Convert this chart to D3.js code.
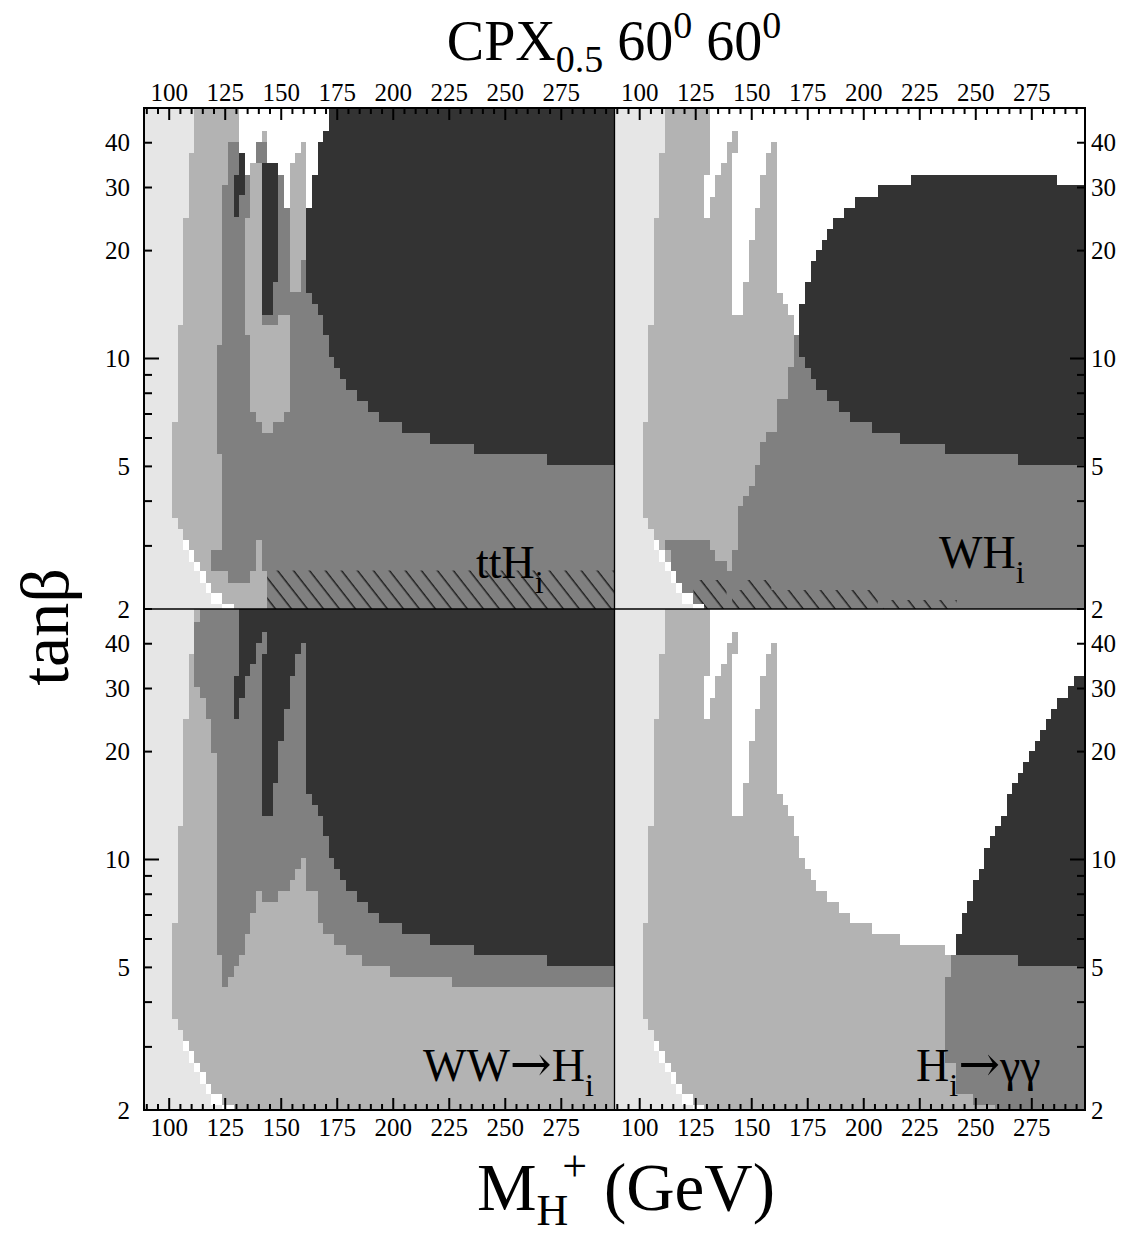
<!DOCTYPE html>
<html><head><meta charset="utf-8">
<script src="https://cdn.jsdelivr.net/npm/d3@7"></script>
<style>
body{margin:0;background:#fff;}
svg text{font-family:"Liberation Serif","Times New Roman",serif;fill:#000;}
</style></head><body>
<svg id="chart" width="1142" height="1236"></svg>
<script>
// ---------- axis domains / ticks ----------
const M_MIN = 88.75, M_MAX = 298.75, T_MIN = 2, T_MAX = 50;
const xMajorTicks = [100,125,150,175,200,225,250,275];
const xMinorTicks = d3.range(90, 300, 5);
const yTickValues = [2,3,4,5,6,7,8,9,10,20,30,40];
const yTickLabels = [2,5,10,20,30,40];

// ---------- region data: rows [tanβ low, tanβ high, M0, M1, (M0, M1) ...] ----------
// LEP-excluded strip (very light grey): [tLow, tHigh, M right edge]
const lepA = [
 [2.0,2.07,123.75],[2.07,2.21,118.75],[2.21,2.37,116.25],[2.37,2.55,113.75],
 [2.55,2.71,111.25],[2.71,2.93,108.75],[2.93,3.12,106.25],[3.12,3.34,106.25],
 [3.34,3.59,103.75],[3.59,6.63,101.25],[6.63,12.4,103.75],[12.4,24.6,106.25],
 [24.6,37.4,108.75],[37.4,50,111.25]
];
// thin white strip next to it: [tLow, tHigh, M right edge]
const lepW = [
 [2.0,2.07,128.75],[2.07,2.21,123.75],[2.21,2.37,118.75],[2.37,2.55,116.25],
 [2.55,2.71,113.75],[2.71,2.93,111.25],[2.93,3.12,108.75]
];
// upper "finger" zone (white / dark depending on channel)
const fingerZone = [
 [43.0,50, 131.25,M_MAX],
 [40.3,43.0, 131.25,141.25, 143.75,M_MAX],
 [37.4,40.3, 131.25,138.75, 143.75,158.75, 161.25,M_MAX],
 [35.1,37.4, 131.25,138.75, 141.25,156.25, 161.25,M_MAX],
 [32.5,35.1, 131.25,136.25, 141.25,156.25, 161.25,M_MAX],
 [28.3,32.5, 128.75,133.75, 141.25,153.75, 161.25,M_MAX],
 [26.3,28.3, 128.75,131.25, 141.25,153.75, 161.25,M_MAX],
 [24.6,26.3, 128.75,131.25, 141.25,151.25, 161.25,M_MAX],
 [21.4,24.6, 141.25,151.25, 161.25,M_MAX],
 [16.3,21.4, 141.25,148.75, 161.25,M_MAX],
 [15.2,16.3, 141.25,146.25, 161.25,M_MAX],
 [14.2,15.2, 141.25,146.25, 163.75,M_MAX],
 [13.2,14.2, 141.25,146.25, 166.25,M_MAX],
 [11.6,13.2, 168.75,M_MAX]
];
// large dark region (upper right)
const darkBulk = [
 [43.0,50,171.25,M_MAX],[40.3,43.0,168.75,M_MAX],[32.5,40.3,166.25,M_MAX],
 [26.3,32.5,163.75,M_MAX],[15.2,26.3,161.25,M_MAX],[14.2,15.2,163.75,M_MAX],
 [13.2,14.2,166.25,M_MAX],[11.6,13.2,168.75,M_MAX],[10.1,11.6,171.25,M_MAX],
 [9.41,10.1,173.75,M_MAX],[8.77,9.41,176.25,M_MAX],[8.16,8.77,178.75,M_MAX],
 [7.62,8.16,183.75,M_MAX],[7.11,7.62,188.75,M_MAX],[6.63,7.11,193.75,M_MAX],
 [6.21,6.63,203.75,M_MAX],[5.79,6.21,216.25,M_MAX],[5.40,5.79,236.25,M_MAX],
 [5.03,5.40,268.75,M_MAX]
];
// ttH panel
const tthMid = [
 [2.0,2.37,143.75,M_MAX],[2.37,2.55,126.25,M_MAX],[2.55,2.93,118.75,M_MAX],
 [2.93,5.40,123.75,M_MAX],[5.40,10.9,121.25,M_MAX],[10.9,30.4,123.75,M_MAX],
 [30.4,40.3,126.25,M_MAX]
];
const tthLight = [
 [2.37,2.55,136.25,143.75],[2.55,3.12,138.75,141.25],
 [6.21,6.63,141.25,146.25],[6.63,7.11,138.75,151.25],[7.11,11.6,136.25,153.75],
 [11.6,13.2,133.75,153.75],[13.2,15.3,133.75,141.25],
 [15.3,35.1,133.75,141.25, 153.75,158.75],[18.8,35.1,158.75,161.25],
 [35.1,37.4,156.25,161.25],[37.4,40.3,158.75,161.25],[40.3,43.0,141.25,143.75]
];
const tthMidCap = [[12.4,13.2,141.25,148.75],[15.5,21.0,148.75,153.75],[24.6,35.1,133.75,136.25]];
const tthDark = [
 [13.2,16.3,141.25,146.25],[16.3,35.1,141.25,148.75],
 [24.9,32.5,128.75,131.25],[28.6,37.4,131.25,133.75]
];
const tthWhite = [
 [43.0,50,131.25,171.25],
 [40.3,43.0,131.25,141.25, 143.75,168.75],
 [37.4,40.3,131.25,138.75, 143.75,158.75, 161.25,166.25],
 [35.1,37.4,133.75,138.75, 143.75,156.25, 161.25,166.25],
 [32.5,35.1,133.75,136.25, 148.75,153.75, 161.25,166.25],
 [26.3,32.5,151.25,153.75, 161.25,163.75]
];
const tthHatch = [[2.0,2.56,143.75,M_MAX]];
// WH panel
const whMid = [
 [9.45,11.6,168.75,M_MAX],[7.7,9.45,166.25,M_MAX],[6.24,7.7,161.25,M_MAX],
 [5.83,6.24,156.25,M_MAX],[5.06,5.83,153.75,M_MAX],[4.40,5.06,151.25,M_MAX],
 [4.13,4.40,148.75,M_MAX],[3.87,4.13,146.25,M_MAX],[3.12,3.87,143.75,M_MAX],
 [2.93,3.12,111.25,M_MAX],[2.71,2.93,113.75,M_MAX],[2.0,2.71,106.25,M_MAX]
];
const whLight = [[2.93,3.12,131.25,143.75],[2.73,2.93,133.75,141.25],[2.55,2.73,138.75,141.25]];
const whDark = [
 [30.4,32.5,221.25,286.25],[28.3,30.4,206.25,M_MAX],[26.3,28.3,196.25,M_MAX],
 [24.6,26.3,191.25,M_MAX],[23.0,24.6,186.25,M_MAX],[21.4,23.0,183.75,M_MAX],
 [20.1,21.4,181.25,M_MAX],[18.7,20.1,178.75,M_MAX],[16.3,18.7,176.25,M_MAX],
 [14.2,16.3,173.75,M_MAX],[10.1,14.2,171.25,M_MAX],
 [9.41,10.1,173.75,M_MAX],[8.77,9.41,176.25,M_MAX],[8.16,8.77,178.75,M_MAX],
 [7.62,8.16,183.75,M_MAX],[7.11,7.62,188.75,M_MAX],[6.63,7.11,193.75,M_MAX],
 [6.21,6.63,203.75,M_MAX],[5.79,6.21,216.25,M_MAX],[5.40,5.79,236.25,M_MAX],
 [5.03,5.40,268.75,M_MAX]
];
const whHatch = [
 [2.0,2.41,124.0,138.75],[2.0,2.26,141.25,146.25],[2.0,2.41,146.25,158.75],
 [2.0,2.26,158.75,206.25],[2.0,2.12,208.75,241.5]
];
// WW panel
const wwMid = [
 [45.9,50,113.75,M_MAX],[30.2,45.9,111.25,M_MAX],[28.3,30.2,113.75,M_MAX],
 [24.6,28.3,116.25,M_MAX],[19.8,24.6,118.75,M_MAX],[5.40,19.8,121.25,M_MAX],
 [4.40,5.40,123.75,M_MAX]
];
// light floor: [M0, M1, tanβ top]
const wwFloor = [
 [123.75,126.25,4.40],[126.25,128.75,4.70],[128.75,131.25,5.03],[131.25,133.75,5.40],
 [133.75,136.25,6.21],[136.25,138.75,7.11],[138.75,141.25,8.16],[141.25,148.75,7.62],
 [148.75,153.75,8.16],[153.75,156.25,8.77],[156.25,158.75,9.41],[158.75,161.25,10.1],
 [161.25,166.25,8.16],[166.25,168.75,6.63],[168.75,173.75,6.21],[173.75,178.75,5.79],
 [178.75,186.25,5.40],[186.25,198.75,5.03],[198.75,226.25,4.70],[226.25,298.75,4.40]
];
// γγ panel
const ggDark = [
 [30.4,32.5,293.75,M_MAX],[28.3,30.4,291.25,M_MAX],[26.3,28.3,286.25,M_MAX],
 [24.6,26.3,283.75,M_MAX],[23.0,24.6,281.25,M_MAX],[21.4,23.0,278.75,M_MAX],
 [20.1,21.4,276.25,M_MAX],[18.7,20.1,273.75,M_MAX],[17.4,18.7,271.25,M_MAX],
 [16.3,17.4,268.75,M_MAX],[15.2,16.3,266.25,M_MAX],[13.2,15.2,263.75,M_MAX],
 [12.4,13.2,261.25,M_MAX],[11.6,12.4,258.75,M_MAX],[10.75,11.6,256.25,M_MAX],
 [9.41,10.75,253.75,M_MAX],[8.77,9.41,251.25,M_MAX],[7.65,8.77,248.75,M_MAX],
 [7.11,7.65,246.25,M_MAX],[6.21,7.11,243.75,M_MAX],[5.40,6.21,241.25,M_MAX],
 [5.03,5.40,268.75,M_MAX]
];
const ggMid = [
 [5.03,5.40,238.75,268.75],[4.70,5.03,238.75,M_MAX],[2.71,4.70,236.25,M_MAX],
 [2.21,2.71,241.25,M_MAX],[2.07,2.21,248.75,M_MAX],[2.0,2.07,258.75,M_MAX]
];

// ---------- drawing ----------
const COL = {A:"#e6e6e6", B:"#b3b3b3", C:"#808080", D:"#333333", W:"#ffffff"};
const svg = d3.select("#chart");
const X0 = 144, XM = 614.5, X1 = 1085, Y0 = 108, YM = 609, Y1 = 1110;
const xL = d3.scaleLinear().domain([M_MIN, M_MAX]).range([X0, XM]);
const xR = d3.scaleLinear().domain([M_MIN, M_MAX]).range([XM, X1]);
const yT = d3.scaleLog().domain([T_MIN, T_MAX]).range([YM, Y0]);
const yB = d3.scaleLog().domain([T_MIN, T_MAX]).range([Y1, YM]);

const defs = svg.append("defs");
const pat = defs.append("pattern").attr("id","hatch").attr("patternUnits","userSpaceOnUse")
  .attr("width",12.6).attr("height",12.6).attr("patternTransform","rotate(-38)");
pat.append("line").attr("x1",6).attr("y1",-1).attr("x2",6).attr("y2",14)
  .attr("stroke","#000").attr("stroke-width",1.1);

function rowsRects(g, rows, fill, xs, ys){
  rows.forEach(r => {
    for (let i = 2; i < r.length; i += 2){
      g.append("rect").attr("x", xs(r[i])).attr("width", xs(r[i+1]) - xs(r[i]))
        .attr("y", ys(r[1])).attr("height", ys(r[0]) - ys(r[1])).attr("fill", fill);
    }
  });
}
function colsRects(g, cols, fill, xs, ys){
  cols.forEach(c => {
    g.append("rect").attr("x", xs(c[0])).attr("width", xs(c[1]) - xs(c[0]))
      .attr("y", ys(c[2])).attr("height", ys(T_MIN) - ys(c[2])).attr("fill", fill);
  });
}
const edgeRows = arr => arr.map(r => [r[0], r[1], M_MIN, r[2]]);

const panels = [
  {xs:xL, ys:yT, layers:[["C",tthMid],["B",tthLight],["C",tthMidCap],["D",tthDark],["W",tthWhite],["D",darkBulk]], hatch:tthHatch},
  {xs:xR, ys:yT, layers:[["C",whMid],["B",whLight],["W",fingerZone],["D",whDark]], hatch:whHatch},
  {xs:xL, ys:yB, layers:[["C",wwMid],["Bcols",wwFloor],["D",fingerZone],["D",darkBulk]]},
  {xs:xR, ys:yB, layers:[["W",fingerZone],["W",darkBulk],["D",ggDark],["C",ggMid]]}
];

panels.forEach((p, i) => {
  const g = svg.append("g").attr("shape-rendering","crispEdges");
  const [x0, x1] = p.xs.range(), [yb, yt] = p.ys.range();
  g.append("rect").attr("x",x0).attr("y",yt).attr("width",x1-x0).attr("height",yb-yt).attr("fill",COL.B);
  p.layers.forEach(([k, rows]) => {
    if (k === "Bcols") colsRects(g, rows, COL.B, p.xs, p.ys);
    else rowsRects(g, rows, COL[k], p.xs, p.ys);
  });
  if (p.hatch){
    const cid = "clipH" + i;
    const cp = defs.append("clipPath").attr("id", cid);
    p.hatch.forEach(r => cp.append("rect").attr("x", p.xs(r[2])).attr("width", p.xs(r[3]) - p.xs(r[2]))
      .attr("y", p.ys(r[1])).attr("height", p.ys(r[0]) - p.ys(r[1])));
    svg.append("rect").attr("x",x0).attr("y",yt).attr("width",x1-x0).attr("height",yb-yt)
      .attr("fill","url(#hatch)").attr("clip-path","url(#"+cid+")");
  }
  const g2 = svg.append("g").attr("shape-rendering","crispEdges");
  rowsRects(g2, edgeRows(lepW), COL.W, p.xs, p.ys);
  rowsRects(g2, edgeRows(lepA), COL.A, p.xs, p.ys);
});

// ---------- frame ----------
svg.append("rect").attr("x",X0).attr("y",Y0).attr("width",X1-X0).attr("height",Y1-Y0)
  .attr("fill","none").attr("stroke","#000").attr("stroke-width",2);
svg.append("line").attr("x1",XM).attr("x2",XM).attr("y1",Y0).attr("y2",Y1).attr("stroke","#000").attr("stroke-width",1.3);
svg.append("line").attr("x1",X0).attr("x2",X1).attr("y1",YM).attr("y2",YM).attr("stroke","#000").attr("stroke-width",1.5);

// ---------- ticks ----------
const tk = svg.append("g").attr("stroke","#000").attr("stroke-width",2);
[xL, xR].forEach(xs => {
  xMinorTicks.forEach(v => {
    const L = (v % 25 === 0) ? 12 : 6;
    tk.append("line").attr("x1",xs(v)).attr("x2",xs(v)).attr("y1",Y0).attr("y2",Y0+L);
    tk.append("line").attr("x1",xs(v)).attr("x2",xs(v)).attr("y1",Y1).attr("y2",Y1-L);
  });
  xMajorTicks.forEach(v => {
    svg.append("text").attr("x",xs(v)).attr("y",101).attr("text-anchor","middle").attr("font-size",25).text(v);
    svg.append("text").attr("x",xs(v)).attr("y",1136).attr("text-anchor","middle").attr("font-size",25).text(v);
  });
});
[yT, yB].forEach(ys => {
  yTickValues.forEach(v => {
    const L = v === 10 ? 15 : 8;
    tk.append("line").attr("x1",X0).attr("x2",X0+L).attr("y1",ys(v)).attr("y2",ys(v));
    tk.append("line").attr("x1",X1).attr("x2",X1-L).attr("y1",ys(v)).attr("y2",ys(v));
  });
  yTickLabels.forEach(v => {
    svg.append("text").attr("x",130).attr("y",ys(v)).attr("dy","0.35em").attr("text-anchor","end").attr("font-size",25).text(v);
    svg.append("text").attr("x",1091).attr("y",ys(v)).attr("dy","0.35em").attr("text-anchor","start").attr("font-size",25).text(v);
  });
});

// ---------- titles ----------
const title = svg.append("text").attr("x",614).attr("y",60).attr("text-anchor","middle").attr("font-size",56);
title.append("tspan").text("CPX");
title.append("tspan").attr("dy",12).attr("font-size",38).text("0.5");
title.append("tspan").attr("dy",-12).text(" 60");
title.append("tspan").attr("dy",-22).attr("font-size",38).text("0");
title.append("tspan").attr("dy",22).text(" 60");
title.append("tspan").attr("dy",-22).attr("font-size",38).text("0");

const xl = svg.append("text").attr("x",626).attr("y",1210).attr("text-anchor","middle").attr("font-size",67);
xl.append("tspan").text("M");
xl.append("tspan").attr("dy",15).attr("font-size",44).text("H");
xl.append("tspan").attr("dy",-44).attr("dx",-6).attr("font-size",44).text("+");
xl.append("tspan").attr("dy",29).text(" (GeV)");

svg.append("text").attr("transform","translate(68,627) rotate(-90)").attr("text-anchor","middle")
  .attr("font-size",68).text("tan\u03b2");

function panelLabel(x, y, parts){
  const t = svg.append("text").attr("x",x).attr("y",y).attr("font-size",46);
  parts.forEach(([s, kind]) => {
    if (kind === "sub") t.append("tspan").attr("dy",15).attr("font-size",32).text(s);
    else if (kind === "arrow") t.append("tspan").attr("font-family","DejaVu Serif").attr("font-size",50).text(s);
    else if (kind === "uparrow") t.append("tspan").attr("dy",-15).attr("font-family","DejaVu Serif").attr("font-size",50).text(s);
    else t.append("tspan").text(s);
  });
}
panelLabel(476, 578, [["ttH"],["i","sub"]]);
panelLabel(939, 568, [["WH"],["i","sub"]]);
panelLabel(423, 1081, [["WW"],["\u2192","arrow"],["H"],["i","sub"]]);
panelLabel(916, 1081, [["H"],["i","sub"],["\u2192","uparrow"],["\u03b3\u03b3"]]);
</script>
</body></html>
